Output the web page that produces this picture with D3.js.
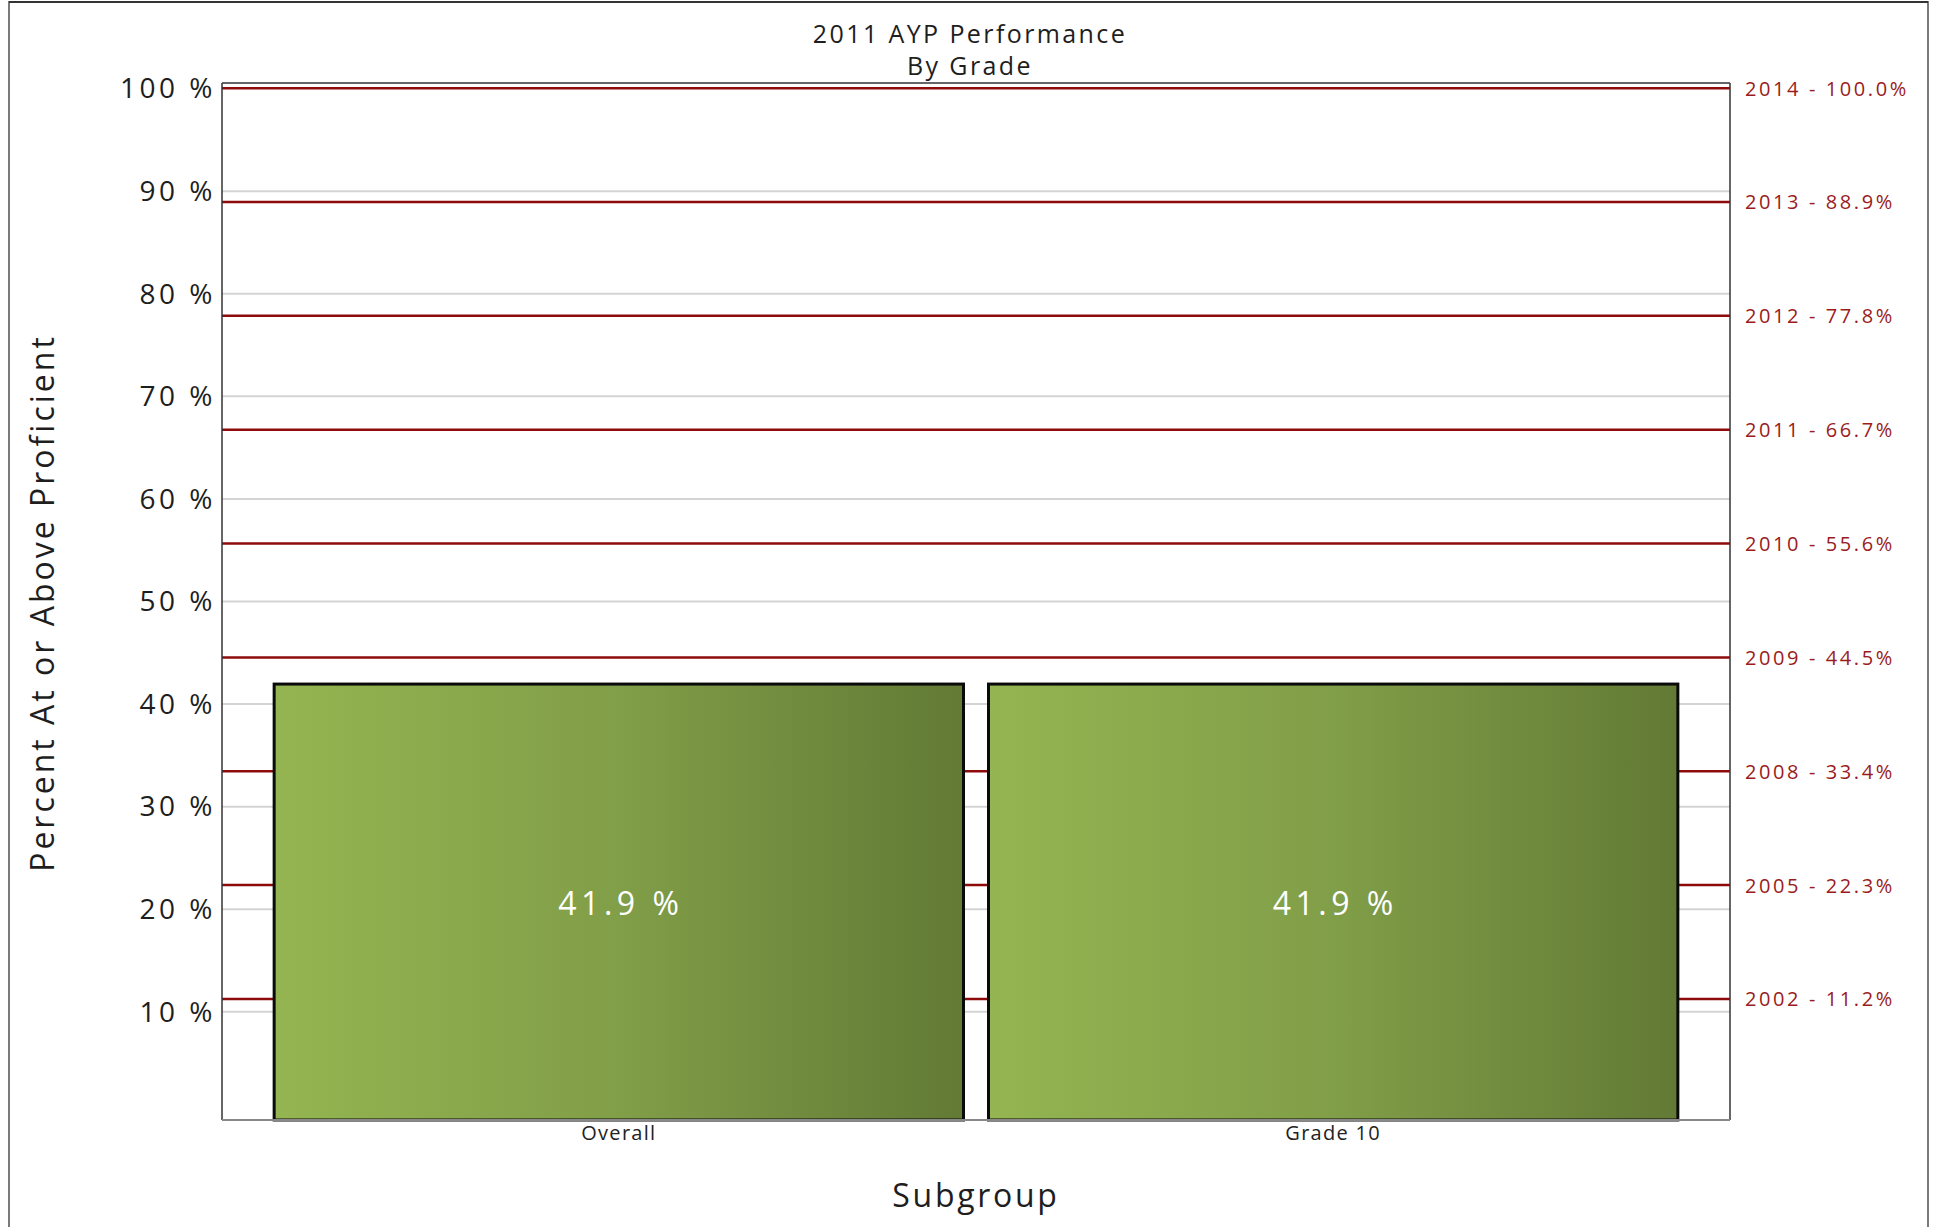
<!DOCTYPE html>
<html><head><meta charset="utf-8">
<script src="https://cdn.jsdelivr.net/npm/d3@7"></script>
<style>
html,body{margin:0;padding:0;background:#fff;}
text{font-family:"Open Sans",sans-serif;}
</style></head>
<body>
<svg id="chart" width="1937" height="1227"></svg>
<script>
const titleLines = ["2011 AYP Performance", "By Grade"];
const categories = ["Overall", "Grade 10"];
const values = [41.9, 41.9];
const yTicks = [10, 20, 30, 40, 50, 60, 70, 80, 90, 100];
const targetYears = ["2014", "2013", "2012", "2011", "2010", "2009", "2008", "2005", "2002"];
const targetValues = [100.0, 88.9, 77.8, 66.7, 55.6, 44.5, 33.4, 22.3, 11.2];
const yTitle = "Percent At or Above Proficient";
const xTitle = "Subgroup";

const svg = d3.select("#chart");
const L = 222, R = 1730, T = 83, B = 1120;

// outer frame
svg.append("rect").attr("x", 9).attr("y", 2).attr("width", 1919).attr("height", 1240)
  .attr("fill", "none").attr("stroke", "#7a7a7a").attr("stroke-width", 2);
svg.append("line").attr("x1", 9).attr("x2", 1928).attr("y1", 2).attr("y2", 2)
  .attr("stroke", "#333").attr("stroke-width", 2);

const x = d3.scaleBand().domain(categories).range([L, R]).paddingInner(0.035).paddingOuter(0.073);
const y = d3.scaleLinear().domain([-0.6, 100.5]).range([B, T]);

// gridlines
svg.append("g").attr("transform", `translate(${L},0)`)
  .call(d3.axisLeft(y).tickValues(yTicks.filter(v => v < 100)).tickSize(-(R - L)).tickFormat(""))
  .call(g => g.select(".domain").remove())
  .call(g => g.selectAll("line").attr("stroke", "#d4d4d4").attr("stroke-width", 2));

// target lines
svg.append("g").selectAll("line").data(targetValues).join("line")
  .attr("x1", L).attr("x2", R).attr("y1", d => y(d)).attr("y2", d => y(d))
  .attr("stroke", "#8e0b0b").attr("stroke-width", 2.5);

// gradient
const defs = svg.append("defs");
const grad = defs.append("linearGradient").attr("id", "barGrad").attr("x1", "0%").attr("x2", "100%").attr("y1", "0%").attr("y2", "0%");
grad.append("stop").attr("offset", "0%").attr("stop-color", "#94b551");
grad.append("stop").attr("offset", "50%").attr("stop-color", "#819e48");
grad.append("stop").attr("offset", "100%").attr("stop-color", "#627a35");

// bars
const bars = svg.append("g");
bars.selectAll("rect").data(values).join("rect")
  .attr("x", (d, i) => x(categories[i]))
  .attr("y", d => y(d))
  .attr("width", x.bandwidth())
  .attr("height", d => y(-0.6) - y(d))
  .attr("fill", "url(#barGrad)")
  .attr("stroke", "#0a0a0a").attr("stroke-width", 3);

bars.selectAll("text").data(values).join("text")
  .attr("x", (d, i) => x(categories[i]) + x.bandwidth() / 2 + 2)
  .attr("y", d => (y(d) + y(0)) / 2 + 4)
  .attr("text-anchor", "middle").attr("dominant-baseline", "central")
  .attr("fill", "#ffffff").attr("font-size", 32).attr("letter-spacing", 4.5)
  .text(d => d.toFixed(1) + " %");

// plot frame
svg.append("line").attr("x1", L).attr("x2", R).attr("y1", T).attr("y2", T).attr("stroke", "#333").attr("stroke-width", 1.5);
svg.append("line").attr("x1", R).attr("x2", R).attr("y1", T).attr("y2", B).attr("stroke", "#333").attr("stroke-width", 1.5);
svg.append("line").attr("x1", L).attr("x2", L).attr("y1", T).attr("y2", B).attr("stroke", "#333").attr("stroke-width", 1.5);
svg.append("line").attr("x1", L).attr("x2", R).attr("y1", B).attr("y2", B).attr("stroke", "#888").attr("stroke-width", 2);

// y axis labels
svg.append("g").attr("transform", `translate(${L},0)`)
  .call(d3.axisLeft(y).tickValues(yTicks).tickSize(0).tickPadding(6).tickFormat(d => d + " %"))
  .call(g => g.select(".domain").remove())
  .call(g => g.selectAll("text").attr("font-size", 28).attr("fill", "#1e1e1e")
    .attr("font-family", "Open Sans, sans-serif").attr("letter-spacing", 3.5).attr("dy", "0.35em"));

// x axis labels
svg.append("g").attr("transform", `translate(0,${B})`)
  .call(d3.axisBottom(x).tickSize(0).tickPadding(6))
  .call(g => g.select(".domain").remove())
  .call(g => g.selectAll("text").attr("font-size", 20).attr("fill", "#222")
    .attr("font-family", "Open Sans, sans-serif").attr("letter-spacing", 1.3));

// right target labels
svg.append("g").selectAll("text").data(targetValues).join("text")
  .attr("x", 1745).attr("y", d => y(d))
  .attr("dominant-baseline", "central")
  .attr("font-size", 20).attr("fill", "#9a1c1c").attr("letter-spacing", 2.6)
  .style("white-space", "pre")
  .text((d, i) => targetYears[i] + " - " + d.toFixed(1) + "%");

// titles
svg.append("g").selectAll("text").data(titleLines).join("text")
  .attr("x", 970).attr("y", (d, i) => 43 + i * 32)
  .attr("text-anchor", "middle").attr("font-size", 25).attr("fill", "#1e1e1e").attr("letter-spacing", 2.4)
  .text(d => d);

svg.append("text").attr("transform", `translate(54,603) rotate(-90)`)
  .attr("text-anchor", "middle").attr("font-size", 32).attr("fill", "#1e1e1e").attr("letter-spacing", 3)
  .text(yTitle);

svg.append("text").attr("x", 976).attr("y", 1207)
  .attr("text-anchor", "middle").attr("font-size", 32).attr("fill", "#1e1e1e").attr("letter-spacing", 2.7)
  .text(xTitle);
</script>
</body></html>
